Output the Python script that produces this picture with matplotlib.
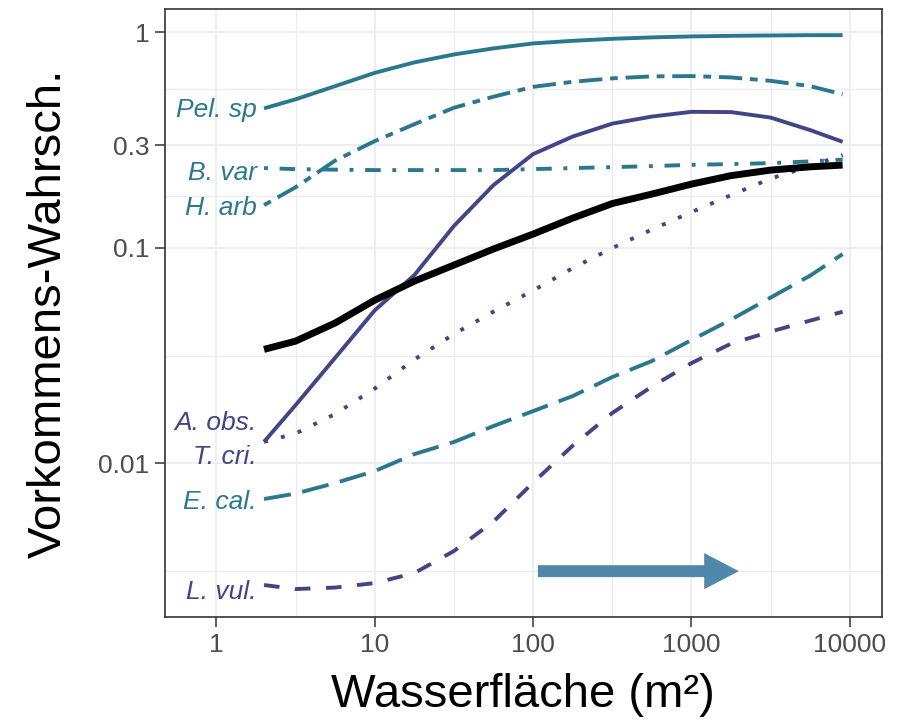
import matplotlib
matplotlib.use("Agg")
import matplotlib.pyplot as plt
from matplotlib.patches import FancyArrowPatch
from matplotlib.ticker import FixedLocator, NullFormatter

plt.rcParams['font.family'] = ['Liberation Sans', 'DejaVu Sans']

# Wasserfläche (m2), gemeinsame Stützstellen aller Kurven
area = [2, 3.16, 5.62, 10, 17.8, 31.6, 56.2, 100, 178, 316, 562, 1000, 1780, 3160, 5620, 9000]

pel_sp = [0.444, 0.489, 0.563, 0.649, 0.726, 0.790, 0.843, 0.889, 0.914, 0.934,
          0.948, 0.958, 0.964, 0.968, 0.971, 0.971]
h_arb = [0.158, 0.191, 0.254, 0.313, 0.375, 0.447, 0.503, 0.559, 0.590, 0.612,
         0.625, 0.627, 0.618, 0.596, 0.563, 0.516]
b_var = [0.2346, 0.232, 0.2307, 0.2296, 0.2296, 0.2296, 0.2296, 0.232, 0.2346, 0.237,
         0.2396, 0.2429, 0.2448, 0.2474, 0.252, 0.2569]
a_obs = [0.01259, 0.01861, 0.03087, 0.0513, 0.0748, 0.1263, 0.1956, 0.2724, 0.3288, 0.3773,
         0.4068, 0.4280, 0.4267, 0.4025, 0.3521, 0.3107]
gesamt = [0.0338, 0.0369, 0.0448, 0.0572, 0.0701, 0.0832, 0.0988, 0.1159, 0.1375, 0.1606,
          0.1777, 0.1977, 0.2165, 0.2296, 0.2378, 0.2422]
t_cri = [0.01259, 0.01375, 0.01694, 0.02224, 0.03032, 0.0398, 0.0506, 0.0634, 0.0806, 0.0998,
         0.1216, 0.1466, 0.1758, 0.2097, 0.2396, 0.2695]
e_cal = [0.00683, 0.00724, 0.00810, 0.00921, 0.01104, 0.01256, 0.01490, 0.01748, 0.02053, 0.02515,
         0.02984, 0.03735, 0.04649, 0.05880, 0.07437, 0.09358]
l_vul = [0.002725, 0.002610, 0.002652, 0.002782, 0.003097, 0.003917, 0.005368, 0.008143, 0.01209, 0.01712,
         0.02272, 0.02920, 0.03596, 0.04088, 0.04598, 0.05052]

labels = ["Pel. sp", "B. var", "H. arb", "A. obs.", "T. cri.", "E. cal.", "L. vul."]
label_y = [0.436, 0.222, 0.153, 0.0154, 0.0107, 0.00664, 0.00254]

x_ticks = [1, 10, 100, 1000, 10000]
x_ticklabels = ["1", "10", "100", "1000", "10000"]
y_ticks = [1, 0.3, 0.1, 0.01]
y_ticklabels = ["1", "0.3", "0.1", "0.01"]

teal = "#2A788E"
purple = "#414487"

fig = plt.figure(figsize=(9.08, 7.27), dpi=100)
ax = fig.add_axes([0.1814, 0.1509, 0.7896, 0.8363])
ax.set_xscale('log')
ax.set_yscale('log')

lw = 2.8
ax.plot(area, pel_sp, color=teal, lw=lw, solid_capstyle='butt', solid_joinstyle='round')
ax.plot(area, h_arb, color=teal, lw=lw, dashes=(2, 2, 6, 2))
ax.plot(area, b_var, color=teal, lw=lw, dashes=(1, 3, 4, 3))
ax.plot(area, e_cal, color=teal, lw=lw, dashes=(7, 3))
ax.plot(area, a_obs, color=purple, lw=lw, solid_capstyle='butt', solid_joinstyle='round')
ax.plot(area, t_cri, color=purple, lw=lw, dashes=(1, 3.5))
ax.plot(area, l_vul, color=purple, lw=lw, dashes=(4, 4))
ax.plot(area, gesamt, color='black', lw=5, solid_capstyle='butt', solid_joinstyle='round')

label_colors = [teal, teal, teal, purple, purple, teal, purple]
for txt, yv, c in zip(labels, label_y, label_colors):
    ax.text(1.8, yv, txt, color=c, fontsize=19, style='italic', ha='right', va='center')

arrow = FancyArrowPatch((103, 0.00316), (2075, 0.00316),
                        arrowstyle="simple,head_width=2.6,head_length=2.5,tail_width=0.86",
                        mutation_scale=10, color="#4F88A8", lw=0)
ax.add_patch(arrow)

ax.set_xlim(0.472, 15880)
ax.set_ylim(0.00193, 1.28)

ax.xaxis.set_major_locator(FixedLocator(x_ticks))
ax.set_xticklabels(x_ticklabels)
ax.yaxis.set_major_locator(FixedLocator(y_ticks))
ax.set_yticklabels(y_ticklabels)
ax.xaxis.set_minor_locator(FixedLocator([10 ** 0.5, 10 ** 1.5, 10 ** 2.5, 10 ** 3.5]))
ax.yaxis.set_minor_locator(FixedLocator([10 ** -0.261, 10 ** -0.761, 10 ** -1.5, 10 ** -2.5]))
ax.xaxis.set_minor_formatter(NullFormatter())
ax.yaxis.set_minor_formatter(NullFormatter())

ax.grid(True, which='major', color='#EBEBEB', lw=1.2)
ax.grid(True, which='minor', color='#EBEBEB', lw=0.8)
ax.set_axisbelow(True)

ax.tick_params(which='major', length=7, width=1.1, color='#333333',
               labelsize=19, labelcolor='#4D4D4D', pad=4)
ax.tick_params(which='minor', length=0)
for s in ax.spines.values():
    s.set_color('#333333')
    s.set_linewidth(1.2)

ax.set_xlabel("Wasserfläche (m²)", fontsize=34, labelpad=12)
ax.set_ylabel("Vorkommens-Wahrsch.", fontsize=34, labelpad=20)

fig.savefig("out.png", dpi=100)
